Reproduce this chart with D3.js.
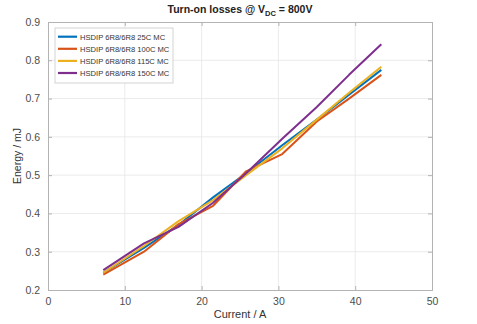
<!DOCTYPE html>
<html>
<head>
<meta charset="utf-8">
<script src="https://cdn.jsdelivr.net/npm/d3@7"></script>
<style>
  html, body { margin: 0; padding: 0; background: #fff; }
  svg { display: block; font-family: Arial, "Liberation Sans", sans-serif; }
</style>
</head>
<body>
<svg id="chart" width="477" height="324"></svg>
<script>
// Turn-on switching energy vs. load current, HSDIP 6R8/6R8 module at several temperatures
const current = [7.2, 12.5, 17, 21.5, 25.8, 30.5, 35, 39.2, 43.4];
const e25C  = [0.245, 0.310, 0.370, 0.442, 0.505, 0.578, 0.645, 0.710, 0.775];
const e100C = [0.240, 0.300, 0.372, 0.420, 0.510, 0.555, 0.640, 0.700, 0.762];
const e115C = [0.245, 0.315, 0.380, 0.435, 0.500, 0.570, 0.645, 0.715, 0.783];
const e150C = [0.252, 0.322, 0.365, 0.428, 0.505, 0.595, 0.678, 0.762, 0.842];
const seriesNames = ["HSDIP 6R8/6R8 25C MC", "HSDIP 6R8/6R8 100C MC", "HSDIP 6R8/6R8 115C MC", "HSDIP 6R8/6R8 150C MC"];
const seriesColors = ["#0072BD", "#D95319", "#EDB120", "#7E2F8E"];
const xTicks = [0, 10, 20, 30, 40, 50];
const yTicks = [0.2, 0.3, 0.4, 0.5, 0.6, 0.7, 0.8, 0.9];

const series = [e25C, e100C, e115C, e150C].map((vals, i) => ({
  name: seriesNames[i], color: seriesColors[i],
  points: current.map((c, j) => [c, vals[j]])
}));

const svg = d3.select("#chart");
const m = { left: 48, right: 45, top: 22, bottom: 34 };
const W = 477, H = 324;
const x = d3.scaleLinear().domain([0, 50]).range([m.left, W - m.right]);
const y = d3.scaleLinear().domain([0.2, 0.9]).range([H - m.bottom, m.top]);

// grid
const grid = svg.append("g").attr("stroke", "#e6e6e6").attr("stroke-width", 0.8);
xTicks.slice(1, -1).forEach(t => grid.append("line")
  .attr("x1", x(t)).attr("x2", x(t)).attr("y1", y(0.2)).attr("y2", y(0.9)));
yTicks.slice(1, -1).forEach(t => grid.append("line")
  .attr("x1", x(0)).attr("x2", x(50)).attr("y1", y(t)).attr("y2", y(t)));

// axes with inward ticks
const tickColor = "#4d4d4d";
const xAxis = svg.append("g").attr("transform", `translate(0,${y(0.2)})`)
  .call(d3.axisBottom(x).tickValues(xTicks).tickSize(-4).tickPadding(8).tickFormat(d3.format("d")));
const xTop = svg.append("g").attr("transform", `translate(0,${y(0.9)})`)
  .call(d3.axisTop(x).tickValues(xTicks).tickSize(-4).tickFormat(""));
const yAxis = svg.append("g").attr("transform", `translate(${x(0)},0)`)
  .call(d3.axisLeft(y).tickValues(yTicks).tickSize(-4).tickPadding(8).tickFormat(d3.format(".1f")));
const yRight = svg.append("g").attr("transform", `translate(${x(50)},0)`)
  .call(d3.axisRight(y).tickValues(yTicks).tickSize(-4).tickFormat(""));
[xAxis, xTop, yAxis, yRight].forEach(a => {
  a.select(".domain").attr("stroke", "#b3b3b3").attr("stroke-width", 1);
  a.selectAll(".tick line").attr("stroke", "#b3b3b3");
  a.selectAll(".tick text").attr("fill", tickColor).attr("font-size", 10.5);
});

// data lines
const line = d3.line().x(d => x(d[0])).y(d => y(d[1]));
svg.append("g").selectAll("path").data(series).join("path")
  .attr("d", d => line(d.points))
  .attr("fill", "none")
  .attr("stroke", d => d.color)
  .attr("stroke-width", 2)
  .attr("stroke-linejoin", "round");

// legend
const lg = svg.append("g");
lg.append("rect").attr("x", 55).attr("y", 28).attr("width", 118).attr("height", 55)
  .attr("fill", "#fff").attr("stroke", "#c8c8c8").attr("stroke-width", 0.8);
series.forEach((s, i) => {
  const yy = 36.7 + i * 12.1;
  lg.append("line").attr("x1", 58).attr("x2", 77).attr("y1", yy).attr("y2", yy)
    .attr("stroke", s.color).attr("stroke-width", 2.2);
  lg.append("text").attr("x", 80).attr("y", yy + 2.8).attr("font-size", 7.6)
    .attr("fill", "#333").text(s.name);
});

// title
const title = svg.append("text").attr("x", 240).attr("y", 13).attr("text-anchor", "middle")
  .attr("font-size", 10.5).attr("font-weight", "bold").attr("fill", "#222");
title.append("tspan").text("Turn-on losses @ V");
title.append("tspan").attr("font-size", 7.5).attr("dy", 2.5).text("DC");
title.append("tspan").attr("dy", -2.5).text(" = 800V");

// axis labels
svg.append("text").attr("x", x(25)).attr("y", 318).attr("text-anchor", "middle")
  .attr("font-size", 11).attr("fill", "#333").text("Current / A");
svg.append("text").attr("transform", `translate(21,${(y(0.2) + y(0.9)) / 2}) rotate(-90)`)
  .attr("text-anchor", "middle").attr("font-size", 10.5).attr("fill", "#333").text("Energy / mJ");
</script>
</body>
</html>
